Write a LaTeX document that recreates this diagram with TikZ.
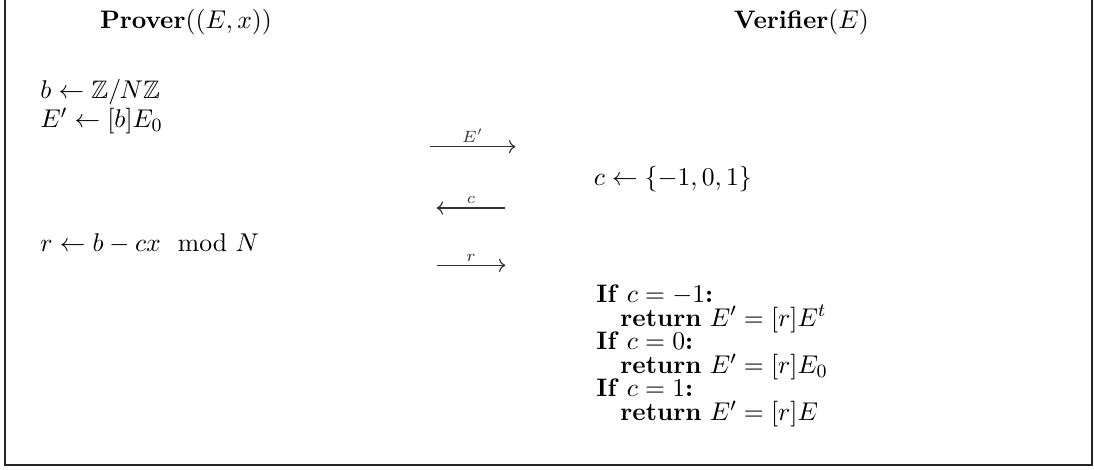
\documentclass[tikz,border=0pt]{standalone}
\usepackage{amsmath,amssymb}
\usetikzlibrary{arrows.meta,calc,positioning}
\tikzset{
  every node/.style={font=\fontsize{10.8}{13}\selectfont},
  stepline/.style={anchor=base west,inner sep=0pt},
  msg/.style={->,line width=0.5pt,black!80},
  msglabel/.style={font=\fontsize{7.5}{9}\selectfont,above,inner sep=1.5pt}
}

\begin{document}
\begin{tikzpicture}[>=To]
  \useasboundingbox (0,0) rectangle (16.41,-7.035);
  % frame (no top edge)
  \draw[line width=0.7pt,black!85] (0.075,0) -- (0.075,-6.975) -- (16.38,-6.975) -- (16.38,0);

  % parties
  \node[anchor=base] (prover) at (2.79,-0.42) {$\textbf{Prover}((E,x))$};
  \node[anchor=base] (verifier) at (12.02,-0.42) {$\textbf{Verifier}(E)$};

  % prover side
  \node[stepline] (pb) at (0.6,-1.47) {$b \leftarrow \mathbb{Z}/N\mathbb{Z}$};
  \node[stepline] (pe) at (0.6,-1.91) {$E' \leftarrow [b]E_0$};
  \node[stepline] (pr) at (0.6,-3.77) {$r \leftarrow b - cx \mod N$};

  % verifier side
  \node[stepline] (vc) at (8.9,-2.78) {$c \leftarrow \{-1,0,1\}$};
  \node[stepline] (v1) at (8.94,-4.53) {\textbf{If} $c=-1$\textbf{:}};
  \node[stepline] (v2) at (9.3,-4.89) {\textbf{return} $E'=[r]E^t$};
  \node[stepline] (v3) at (8.94,-5.24) {\textbf{If} $c=0$\textbf{:}};
  \node[stepline] (v4) at (9.3,-5.60) {\textbf{return} $E'=[r]E_0$};
  \node[stepline] (v5) at (8.94,-5.95) {\textbf{If} $c=1$\textbf{:}};
  \node[stepline] (v6) at (9.3,-6.31) {\textbf{return} $E'=[r]E$};

  % messages
  \coordinate (m1a) at (6.45,-2.2);
  \coordinate (m1b) at (7.73,-2.2);
  \coordinate (m2a) at (7.58,-3.12);
  \coordinate (m2b) at (6.55,-3.12);
  \coordinate (m3a) at (6.55,-3.98);
  \coordinate (m3b) at (7.58,-3.98);
  \draw[msg] (m1a) -- node[msglabel] (l1) {$E'$} (m1b);
  \draw[msg] (m2a) -- node[msglabel] (l2) {$c$} (m2b);
  \draw[msg] (m3a) -- node[msglabel] (l3) {$r$} (m3b);
\end{tikzpicture}
\end{document}
